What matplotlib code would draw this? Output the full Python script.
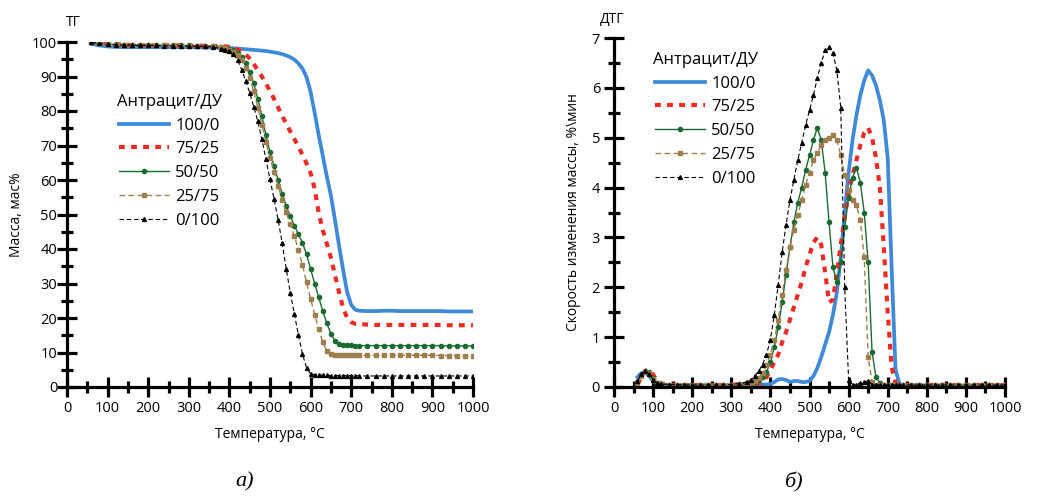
import matplotlib
matplotlib.use("Agg")
import matplotlib.pyplot as plt
from matplotlib.ticker import MultipleLocator

plt.rcParams['font.family'] = ['Open Sans', 'DejaVu Sans']

# ---------------- data ----------------
labels = ["100/0", "75/25", "50/50", "25/75", "0/100"]
legend_title = "Антрацит/ДУ"

# TG panel temperatures (°C)
tg_t = [60, 80, 100, 120, 140, 160, 180, 200, 220, 240, 260, 280, 300, 320, 340, 360, 380,
        390, 400, 410, 420, 430, 440, 450, 460, 470, 480, 490, 500, 510, 520, 530, 540, 550,
        560, 570, 580, 590, 600, 610, 620, 630, 640, 650, 660, 670, 680, 690, 700, 710, 720,
        740, 760, 780, 800, 820, 840, 860, 880, 900, 920, 940, 960, 980, 1000]

tg_100_0 = [99.5, 99.0, 98.7, 98.6, 98.5, 98.5, 98.5, 98.5, 98.5, 98.5, 98.5, 98.5, 98.5, 98.5, 98.4, 98.4, 98.3,
            98.3, 98.2, 98.2, 98.1, 98.0, 97.9, 97.8, 97.7, 97.6, 97.5, 97.4, 97.2, 97.0, 96.8, 96.5, 96.1, 95.6,
            94.9, 93.8, 92.3, 89.8, 85.5, 79.5, 73.0, 67.0, 61.0, 55.5, 48.5, 41.0, 34.0, 27.5, 23.8, 22.4, 22.1,
            22.0, 22.0, 22.1, 22.1, 22.0, 22.0, 22.0, 22.0, 22.0, 22.0, 21.9, 21.9, 21.9, 21.9]

tg_75_25 = [100.3, 99.7, 99.4, 99.3, 99.2, 99.1, 99.1, 99.0, 99.0, 99.0, 99.0, 99.0, 98.9, 98.9, 98.9, 98.8, 98.8,
            98.7, 98.6, 98.3, 97.9, 97.3, 96.4, 95.2, 93.6, 91.9, 90.0, 88.0, 85.8, 83.5, 81.0, 78.6, 76.3, 74.1,
            71.9, 69.6, 67.3, 64.8, 62.0, 57.5, 50.5, 45.5, 41.5, 37.5, 32.5, 27.5, 23.0, 20.0, 18.8, 18.3, 18.2,
            18.1, 18.0, 18.0, 18.0, 18.0, 18.0, 18.0, 18.0, 18.0, 18.0, 17.9, 17.9, 17.9, 17.9]

tg_50_50 = [100.1, 99.7, 99.4, 99.3, 99.2, 99.2, 99.1, 99.1, 99.1, 99.0, 99.0, 99.0, 99.0, 98.9, 98.9, 98.8, 98.6,
            98.4, 98.1, 97.6, 96.8, 95.6, 93.8, 91.3, 88.0, 83.5, 78.5, 73.0, 68.0, 64.0, 60.0, 56.0, 52.5, 49.5,
            46.8, 44.3, 41.8, 38.5, 34.2, 30.0, 26.0, 22.0, 18.5, 15.4, 13.4, 12.5, 12.2, 12.1, 12.1, 12.0, 12.0,
            12.0, 12.0, 12.0, 12.0, 12.0, 12.0, 12.0, 12.0, 12.0, 12.0, 11.9, 11.9, 11.9, 11.9]

tg_25_75 = [100.2, 99.6, 99.3, 99.2, 99.1, 99.1, 99.0, 99.0, 99.0, 99.0, 98.9, 98.9, 98.9, 98.9, 98.8, 98.7, 98.5,
            98.2, 97.8, 97.2, 96.2, 94.8, 92.6, 89.6, 85.8, 81.0, 76.0, 71.0, 66.5, 62.3, 58.3, 54.3, 50.6, 47.2,
            43.7, 39.8, 35.3, 30.3, 25.5, 21.0, 16.8, 13.0, 10.4, 9.6, 9.3, 9.2, 9.2, 9.2, 9.2, 9.2, 9.2,
            9.2, 9.2, 9.2, 9.2, 9.2, 9.2, 9.2, 9.2, 9.2, 9.1, 9.1, 9.1, 9.1, 9.1]

tg_0_100 = [100.0, 99.6, 99.3, 99.2, 99.1, 99.1, 99.0, 99.0, 99.0, 98.9, 98.9, 98.9, 98.8, 98.8, 98.7, 98.5, 98.1,
            97.8, 97.3, 96.5, 94.8, 92.0, 88.8, 85.3, 81.3, 77.0, 71.8, 66.0, 60.2, 54.5, 48.5, 41.7, 34.2, 27.3,
            21.2, 15.0, 9.6, 5.5, 3.8, 3.5, 3.4, 3.4, 3.4, 3.3, 3.3, 3.3, 3.3, 3.3, 3.3, 3.3, 3.2,
            3.2, 3.2, 3.2, 3.2, 3.2, 3.2, 3.2, 3.2, 3.2, 3.2, 3.2, 3.2, 3.2, 3.2]

# DTG panel temperatures (°C)
dtg_t = [60, 70, 80, 90, 100, 110, 120, 140, 160, 180, 200, 220, 240, 260, 280, 300, 320, 340,
         350, 360, 370, 380, 390, 400, 410, 420, 430, 440, 450, 460, 470, 480, 490, 500, 510, 520,
         530, 540, 550, 560, 570, 580, 590, 600, 610, 620, 630, 640, 650, 660, 670, 680, 690, 700,
         710, 720, 730, 740,
         760, 780, 800, 820, 840, 860, 880, 900, 920, 940, 960, 980, 1000]

dtg_100_0 = [0.20, 0.28, 0.30, 0.22, 0.12, 0.07, 0.05, 0.04, 0.04, 0.04, 0.04, 0.04, 0.04, 0.04, 0.04, 0.04, 0.04, 0.05,
             0.05, 0.05, 0.05, 0.05, 0.05, 0.06, 0.10, 0.15, 0.16, 0.14, 0.10, 0.12, 0.12, 0.10, 0.10, 0.12, 0.22, 0.38,
             0.60, 0.85, 1.10, 1.45, 1.90, 2.60, 3.50, 4.30, 4.95, 5.45, 5.85, 6.15, 6.35, 6.25, 6.05, 5.75, 5.35, 4.60,
             2.40, 0.35, 0.06, 0.04,
             0.04, 0.04, 0.03, 0.03, 0.03, 0.03, 0.03, 0.03, 0.03, 0.03, 0.03, 0.03, 0.03]

dtg_75_25 = [0.05, 0.20, 0.32, 0.35, 0.25, 0.12, 0.07, 0.05, 0.04, 0.04, 0.04, 0.04, 0.04, 0.04, 0.04, 0.05, 0.05, 0.06,
             0.06, 0.06, 0.07, 0.10, 0.20, 0.35, 0.50, 0.65, 0.90, 1.10, 1.35, 1.60, 1.85, 2.10, 2.40, 2.65, 2.90, 3.00,
             2.85, 2.30, 1.70, 1.75, 2.30, 2.85, 3.40, 3.90, 4.25, 4.55, 4.85, 5.10, 5.20, 5.00, 4.60, 4.00, 2.80, 1.50,
             0.40, 0.08, 0.05, 0.04,
             0.04, 0.04, 0.04, 0.04, 0.04, 0.04, 0.04, 0.04, 0.04, 0.04, 0.04, 0.04, 0.04]

dtg_50_50 = [0.10, 0.25, 0.33, 0.30, 0.18, 0.09, 0.06, 0.05, 0.05, 0.04, 0.04, 0.04, 0.04, 0.04, 0.04, 0.05, 0.06, 0.07,
             0.08, 0.10, 0.14, 0.20, 0.30, 0.50, 0.80, 1.20, 1.70, 2.25, 2.80, 3.30, 3.70, 4.00, 4.35, 4.65, 4.95, 5.20,
             4.95, 4.30, 3.30, 2.40, 2.10, 2.50, 3.20, 3.80, 4.20, 4.40, 4.10, 3.50, 2.50, 0.70, 0.20, 0.08, 0.05, 0.05,
             0.04, 0.04, 0.04, 0.04,
             0.04, 0.04, 0.04, 0.04, 0.04, 0.04, 0.04, 0.04, 0.04, 0.04, 0.04, 0.04, 0.04]

dtg_25_75 = [0.08, 0.22, 0.30, 0.28, 0.17, 0.09, 0.06, 0.05, 0.05, 0.04, 0.04, 0.04, 0.04, 0.04, 0.04, 0.05, 0.06, 0.08,
             0.09, 0.12, 0.18, 0.28, 0.45, 0.65, 0.95, 1.35, 1.85, 2.35, 2.80, 3.15, 3.45, 3.75, 4.05, 4.30, 4.55, 4.70,
             4.85, 4.95, 5.00, 5.05, 4.95, 4.65, 4.25, 3.95, 3.75, 3.65, 3.35, 2.60, 0.60, 0.10, 0.05, 0.04, 0.04, 0.04,
             0.04, 0.04, 0.04, 0.04,
             0.04, 0.04, 0.04, 0.04, 0.04, 0.04, 0.04, 0.04, 0.04, 0.04, 0.04, 0.04, 0.04]

dtg_0_100 = [0.12, 0.26, 0.32, 0.26, 0.15, 0.08, 0.06, 0.05, 0.05, 0.04, 0.04, 0.04, 0.04, 0.04, 0.04, 0.05, 0.07, 0.10,
             0.15, 0.22, 0.32, 0.45, 0.65, 0.95, 1.45, 2.05, 2.70, 3.25, 3.75, 4.15, 4.55, 4.90, 5.25, 5.55, 5.85, 6.20,
             6.50, 6.75, 6.82, 6.70, 6.35, 5.60, 2.00, 0.15, 0.05, 0.05, 0.08, 0.10, 0.12, 0.05, 0.04, 0.04, 0.04, 0.04,
             0.04, 0.04, 0.04, 0.04,
             0.04, 0.04, 0.04, 0.04, 0.04, 0.04, 0.04, 0.04, 0.04, 0.04, 0.04, 0.04, 0.04]

# ---------------- styles ----------------
styles = [
    dict(color='#3f8ad8', lw=2.7, ls='-'),
    dict(color='#ec2b22', lw=3.0, ls=(0, (1.4, 1.5))),
    dict(color='#1b6a32', lw=1.0, ls='-', marker='o', ms=3.0),
    dict(color='#9f7e4e', lw=1.0, ls=(0, (4, 2.5)), marker='s', ms=3.3),
    dict(color='black', lw=0.8, ls=(0, (4, 2.5)), marker='^', ms=2.8),
]

fig = plt.figure(figsize=(10.45, 4.96), dpi=100)
W, H = 1045, 496


def style_axes(ax, xmaj, xmin, ymaj, ymin, ypad):
    for s in ['top', 'right']:
        ax.spines[s].set_visible(False)
    for s in ['left', 'bottom']:
        ax.spines[s].set_linewidth(2.3)
    ax.xaxis.set_major_locator(MultipleLocator(xmaj))
    ax.xaxis.set_minor_locator(MultipleLocator(xmin))
    ax.yaxis.set_major_locator(MultipleLocator(ymaj))
    ax.yaxis.set_minor_locator(MultipleLocator(ymin))
    ax.tick_params(axis='both', which='major', direction='inout', length=14, width=2.3,
                   labelsize=10.5)
    ax.tick_params(axis='both', which='minor', direction='inout', length=9, width=2.3)
    ax.tick_params(axis='x', which='major', pad=3)
    ax.tick_params(axis='y', which='major', pad=ypad)


legend_kw = dict(frameon=False, loc='upper left', borderaxespad=0, fontsize=12,
                 title_fontsize=12, handlelength=3.0, labelspacing=0.47, handletextpad=0.4)

# ---------- TG panel ----------
ax1 = fig.add_axes([67 / W, (H - 387) / H, (473 - 67) / W, (387 - 42) / H])
for y, lab, st in zip([tg_100_0, tg_75_25, tg_50_50, tg_25_75, tg_0_100], labels, styles):
    ax1.plot(tg_t, y, label=lab, dash_capstyle='butt', **st)
ax1.set_xlim(0, 1000)
ax1.set_ylim(0, 100)
style_axes(ax1, 100, 50, 10, 5, 0)
ax1.set_xlabel("Температура, °C", fontsize=10)
ax1.set_ylabel("Масса, мас%", fontsize=10)
ax1.xaxis.set_label_coords(0.5, -0.115)
ax1.yaxis.set_label_coords(-0.105, 0.5)
ax1.text(73 / W, (H - 22) / H, "ТГ", transform=fig.transFigure, ha='center', va='center', fontsize=10)
ax1.legend(title=legend_title, bbox_to_anchor=((110 - 67) / 406, (387 - 87) / 345), **legend_kw)

# ---------- DTG panel ----------
ax2 = fig.add_axes([614 / W, (H - 387) / H, (1005 - 614) / W, (387 - 38) / H])
for y, lab, st in zip([dtg_100_0, dtg_75_25, dtg_50_50, dtg_25_75, dtg_0_100], labels, styles):
    ax2.plot(dtg_t, y, label=lab, dash_capstyle='butt', **st)
ax2.set_xlim(0, 1000)
ax2.set_ylim(0, 7)
style_axes(ax2, 100, 50, 1, 0.5, 3)
ax2.set_xlabel("Температура, °C", fontsize=10)
ax2.set_ylabel("Скорость изменения массы, %\\мин", fontsize=10)
ax2.xaxis.set_label_coords(0.5, -0.115)
ax2.yaxis.set_label_coords(-0.085, 0.5)
ax2.text(612 / W, (H - 19) / H, "ДТГ", transform=fig.transFigure, ha='center', va='center', fontsize=10)
ax2.legend(title=legend_title, bbox_to_anchor=((646 - 614) / 391, (387 - 45) / 349), **legend_kw)

# captions
fig.text(245 / W, (H - 482) / H, "а)", ha='center', va='center', fontsize=16,
         family='Liberation Serif', style='italic')
fig.text(793 / W, (H - 482) / H, "б)", ha='center', va='center', fontsize=16,
         family='Liberation Serif', style='italic')

fig.savefig("out.png", dpi=100)
